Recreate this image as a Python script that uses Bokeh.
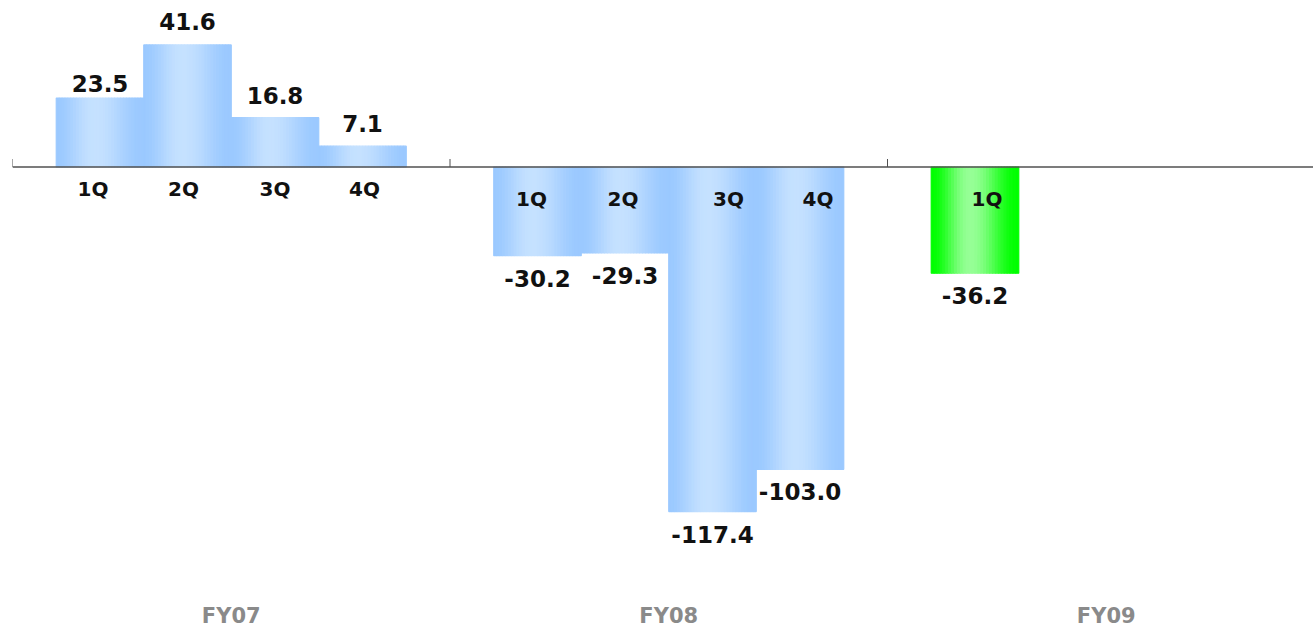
import math
from bokeh.plotting import figure
from bokeh.models import Range1d, Span, ColumnDataSource
from bokeh.core.properties import value
from bokeh.embed import file_html
from bokeh.resources import INLINE

# ---------------- data ----------------
fiscal_years = ["FY07", "FY08", "FY09"]
quarters = ["1Q", "2Q", "3Q", "4Q"]
fy07_values = [23.5, 41.6, 16.8, 7.1]
fy08_values = [-30.2, -29.3, -117.4, -103.0]
fy09_values = [-36.2]
series = [fy07_values, fy08_values, fy09_values]

# ---------------- layout / style ----------------
W, H = 1313, 629
LEFT = 12
SLOT_PX = 87.5          # width of one category slot in pixels
PX_PER_UNIT = 2.935     # vertical scale
ZERO_PX = 166.5         # distance from top to the zero line
SLOTS_PER_GROUP = 5

blue_edge, blue_mid = (155, 201, 255), (197, 225, 255)
green_edge, green_mid = (0, 255, 0), (150, 255, 150)
FONT = value("DejaVu Sans")

frame_w = W - LEFT
x_end = frame_w / SLOT_PX
y_top = ZERO_PX / PX_PER_UNIT
y_bot = -(H - ZERO_PX) / PX_PER_UNIT

p = figure(width=W, height=H, output_backend="svg", toolbar_location=None,
           x_range=Range1d(0, x_end), y_range=Range1d(y_bot, y_top),
           x_axis_type=None, y_axis_type=None,
           min_border_left=LEFT, min_border_right=0,
           min_border_top=0, min_border_bottom=0)
p.outline_line_color = None
p.grid.visible = False
p.background_fill_color = "white"
p.border_fill_color = "white"

# ---------------- bars (gradient drawn as thin strips) ----------------
N = 30
sx, sw, stop, sbot, scol = [], [], [], [], []
bar_x, bar_v, bar_g = [], [], []
for g, vals in enumerate(series):
    edge, mid = (green_edge, green_mid) if g == 2 else (blue_edge, blue_mid)
    for q, v in enumerate(vals):
        xc = g * SLOTS_PER_GROUP + q + 1
        bar_x.append(xc); bar_v.append(v); bar_g.append(g)
        for j in range(N):
            t = (j + 0.5) / N
            d = (t - 0.45) / (0.55 if t > 0.45 else 0.45)
            w = 0.5 * (1 + math.cos(math.pi * min(1.0, abs(d))))
            c = tuple(int(round(e + (m - e) * w)) for e, m in zip(edge, mid))
            sx.append(xc - 0.5 + t)
            sw.append(1.0 / N)
            stop.append(max(v, 0)); sbot.append(min(v, 0))
            scol.append("#%02x%02x%02x" % c)

strips = ColumnDataSource(dict(x=sx, w=sw, top=stop, bottom=sbot, c=scol))
p.vbar(x="x", width="w", top="top", bottom="bottom", source=strips,
       fill_color="c", line_color="c", line_width=1.2)

# ---------------- zero line and group ticks ----------------
p.add_layout(Span(location=0, dimension="width", line_color="#505050",
                  line_width=1.3, level="overlay"))
sep_x = [g * SLOTS_PER_GROUP for g in range(len(fiscal_years) + 1)]
tick_h = 8 / PX_PER_UNIT
p.segment(x0=sep_x, x1=sep_x, y0=[0] * len(sep_x), y1=[tick_h] * len(sep_x),
          line_color="#505050", line_width=1)

# ---------------- value labels ----------------
pos_dy = [-6, -15, -14, -14]   # screen nudges for the positive labels (px)
pos = [(x, v) for x, v in zip(bar_x, bar_v) if v >= 0]
neg = [(x, v) for x, v in zip(bar_x, bar_v) if v < 0]
psrc = ColumnDataSource(dict(x=[a for a, _ in pos], y=[b for _, b in pos],
                             text=["%.1f" % b for _, b in pos], dy=pos_dy))
p.text(x="x", y="y", text="text", y_offset="dy", source=psrc, text_font=FONT,
       text_font_style="bold", text_font_size="23px", text_color="#111111",
       text_align="center", text_baseline="bottom")
p.text(x=[a for a, _ in neg], y=[b for _, b in neg],
       text=["%.1f" % b for _, b in neg], text_font=FONT,
       text_font_style="bold", text_font_size="23px", text_color="#111111",
       text_align="center", text_baseline="top", y_offset=14)

# ---------------- quarter labels ----------------
q_dx = [-7, -4, 0, 2, -6, -2, 16, 18, 12]      # horizontal nudges (px)
q_dy = [22, 31.5, 31.5]                        # per group vertical offset (px)
qsrc = ColumnDataSource(dict(
    x=bar_x, y=[0] * len(bar_x),
    text=[quarters[i] for vals in series for i in range(len(vals))],
    dx=q_dx, dy=[q_dy[g] for g in bar_g]))
p.text(x="x", y="y", text="text", x_offset="dx", y_offset="dy", source=qsrc,
       text_font=FONT, text_font_style="bold", text_font_size="20px",
       text_color="#111111", text_align="center", text_baseline="middle")

# ---------------- fiscal-year labels ----------------
fy_x = [g * SLOTS_PER_GROUP + SLOTS_PER_GROUP / 2 for g in range(len(fiscal_years))]
p.text(x=fy_x, y=[y_bot] * len(fy_x), text=fiscal_years, text_font=FONT,
       text_font_style="bold", text_font_size="21px", text_color="#8a8a8a",
       text_align="center", text_baseline="middle", y_offset=-14)

open("out.html", "w").write(file_html(p, INLINE))
